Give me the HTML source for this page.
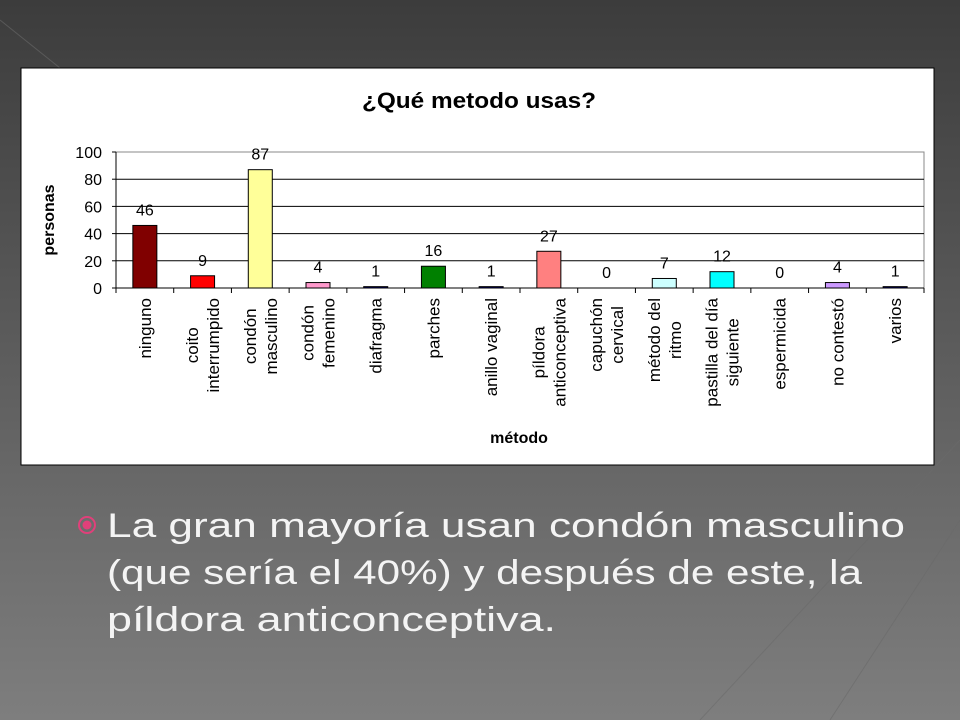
<!DOCTYPE html>
<html><head><meta charset="utf-8"><style>
html,body{margin:0;padding:0;width:960px;height:720px;overflow:hidden;font-family:"Liberation Sans",sans-serif}
</style></head><body>
<svg id="s" width="960" height="720" xmlns="http://www.w3.org/2000/svg">
<defs><linearGradient id="bg" x1="0" y1="0" x2="0" y2="1"><stop offset="0" stop-color="#3c3c3c"/><stop offset="1" stop-color="#7e7e7e"/></linearGradient></defs>
<rect width="960" height="720" fill="url(#bg)"/>
<g stroke="#6a6a6a" stroke-width="1" fill="none" opacity="0.6">
<line x1="0" y1="20" x2="60" y2="68"/><line x1="960" y1="440" x2="700" y2="720"/><line x1="960" y1="520" x2="830" y2="720"/>
</g>
<rect x="21" y="68" width="913" height="397" fill="#fff" stroke="#000" stroke-width="1"/>
<text x="362" y="108" textLength="234" lengthAdjust="spacingAndGlyphs" font-size="22" font-weight="bold" fill="#000">¿Qué metodo usas?</text>
<g id="chart"></g>
<text x="54" y="220" transform="rotate(-90 54 220)" text-anchor="middle" font-size="16" font-weight="bold">personas</text>
<text x="519" y="443" text-anchor="middle" font-size="16" font-weight="bold">método</text>
<circle cx="87" cy="525" r="8" fill="none" stroke="#e0407a" stroke-width="2"/>
<circle cx="87" cy="525" r="4.5" fill="#e0407a"/>
<g fill="#f4f4f4" font-size="34">
<text x="107" y="537" textLength="798" lengthAdjust="spacingAndGlyphs">La gran mayoría usan condón masculino</text>
<text x="107" y="584" textLength="755" lengthAdjust="spacingAndGlyphs">(que sería el 40%) y después de este, la</text>
<text x="107" y="631" textLength="449" lengthAdjust="spacingAndGlyphs">píldora anticonceptiva.</text>
</g>
</svg>
<script>
const categories=[["ninguno"],["coito","interrumpido"],["condón","masculino"],["condón","femenino"],["diafragma"],["parches"],["anillo vaginal"],["píldora","anticonceptiva"],["capuchón","cervical"],["método del","ritmo"],["pastilla del día","siguiente"],["espermicida"],["no contestó"],["varios"]];
const values=[46,9,87,4,1,16,1,27,0,7,12,0,4,1];
const colors=["#800000","#ff0000","#ffff99","#ff99cc","#000080","#008000","#000080","#ff8080","#000080","#ccffff","#00ffff","#000080","#cc99ff","#000080"];
const yTicks=[0,20,40,60,80,100];
const NS="http://www.w3.org/2000/svg";
const g=document.getElementById('chart');
const L=116,R=924,T=152,B=288,yMax=100;
const y=v=>B-(v/yMax)*(B-T);
const cw=(R-L)/categories.length;
const x=i=>L+cw*i;
function mk(t,a){const e=document.createElementNS(NS,t);for(const k in a)e.setAttribute(k,a[k]);g.appendChild(e);return e;}
let r=mk('rect',{x:L,y:T,width:R-L,height:B-T,fill:'none',stroke:'#888'});


yTicks.forEach(t=>{
  if(t>0&&t<yMax){let gl=mk('line',{x1:L,x2:R,y1:y(t),y2:y(t),stroke:'#000'});
  
  }
  let tk=mk('line',{x1:L-4,x2:L,y1:y(t),y2:y(t),stroke:'#000'});
  
  
  let tl=mk('text',{x:L-14,y:y(t)+6,'text-anchor':'end','font-size':16});
  tl.textContent=t;
  
  
});
let ax=mk('line',{x1:L,x2:L,y1:T,y2:B,stroke:'#000'});


let bx=mk('line',{x1:L,x2:R,y1:B,y2:B,stroke:'#000'});


for(let i=0;i<=categories.length;i++){let tk=mk('line',{x1:x(i),x2:x(i),y1:B,y2:B+5,stroke:'#000'});

}
const bw=24;
values.forEach((v,i)=>{
  const cx=x(i)+cw/2;
  let b=mk('rect',{x:cx-bw/2,y:y(v),width:bw,height:B-y(v),fill:colors[i],stroke:'#000','stroke-width':1});
  
  
  let vl=mk('text',{x:cx,y:y(v)-10,'text-anchor':'middle','font-size':16});
  vl.textContent=v;
  
  
  const lines=categories[i];
  const grp=document.createElementNS(NS,'g');g.appendChild(grp);
  
  
  const els=lines.map(s=>{const t=document.createElementNS(NS,'text');t.setAttribute('font-size','17');t.setAttribute('text-anchor','middle');t.textContent=s;grp.appendChild(t);return t;});
  const maxLen=Math.max(...els.map(e=>e.getComputedTextLength()));
  const cy=298+maxLen/2;
  const n=lines.length,lh=21;
  els.forEach((e,k)=>{
    const px=cx+(k-(n-1)/2)*lh+6;
    e.setAttribute('x',px);e.setAttribute('y',cy);
    e.setAttribute('transform','rotate(-90 '+px+' '+cy+')');
  });
});
</script>
</body></html>
